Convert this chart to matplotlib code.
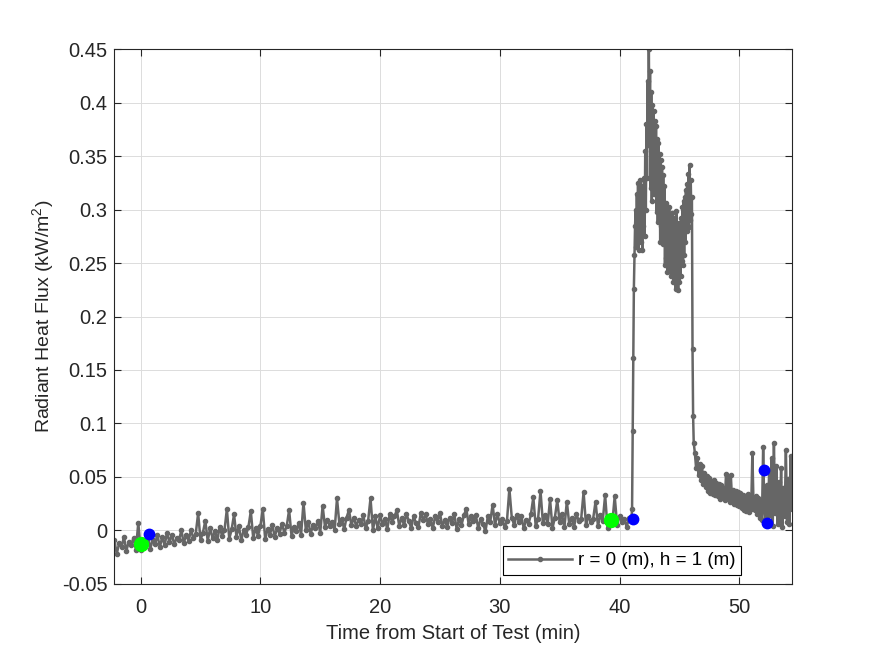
import numpy as np
import matplotlib.pyplot as plt
from matplotlib.ticker import FuncFormatter

plt.rcParams['font.family'] = ['Liberation Sans', 'DejaVu Sans']
plt.rcParams['mathtext.default'] = 'regular'

# heat flux readings in W/m2 (converted to kW/m2 below)
# pre-ignition, sampled every 0.2 min from -2.2 min
pre_start, pre_step = -2.2, 0.2
flux_pre = [
    -9, -22, -12, -16, -6, -19, -11, -14, -7, -18,
    7, -18, -10, -15, -5, -17, -9, -13, -4, -16,
    -6, -14, -2, -11, -4, -13, -7, -9, 0, -12,
    -4, -10, 0, -7, -3, 16, -9, -2, 9, -10,
    2, -7, -1, -9, 3, -5, 0, 20, -8, 1,
    15, -6, 4, -9, 0, -4, 3, 18, -7, 2,
    -5, 4, 20, -8, 1, -4, 5, -6, 2, -3,
    6, -2, 4, 19, -5, 3, -1, 7, -4, 26,
    0, 8, -3, 5, 2, 9, -2, 23, 3, 10,
    4, 8, 0, 30, 6, 11, 1, 12, 19, 5,
    12, 4, 10, 6, 14, 2, 9, 30, 0, 13,
    2, 14, 6, 11, 1, 15, 8, 13, 19, 4,
    12, 5, 15, 9, 2, 13, 7, 3, 16, 10,
    15, 6, 11, 2, 13, 8, 16, 4, 10, 3,
    12, 7, 15, 1, 11, 5, 14, 20, 6, 13,
    9, 14, 2, 11, 6, -1, 13, 8, 24, 5,
    15, 7, 11, 3, 9, 39, 12, 5, 14, 8,
    13, 2, 10, 6, 15, 31, 4, 11, 37, 7,
    14, 6, 29, 2, 12, 28, 8, 15, 3, 27,
    6, 12, 3, 15, 9, 11, 36, 5, 13, 8,
    11, 27, 4, 14, 9, 33, 2, 12, 7, 32,
    5, 13, 8, 11, 3, 12,
]

# fire period, sampled every 0.05 min from 41.0 min
fire_start, fire_step = 41.0, 0.05
flux_fire = [
    11, 20, 93, 161, 226, 258, 285, 300, 265, 315,
    275, 325, 262, 310, 280, 328, 270, 305, 262, 322,
    285, 330, 275, 355, 300, 380, 330, 420, 360, 450,
    380, 430, 320, 410, 308, 398, 335, 392, 315, 383,
    325, 378, 298, 366, 288, 362, 305, 352, 270, 346,
    285, 340, 268, 332, 275, 322, 248, 306, 255, 302,
    242, 292, 250, 302, 244, 288, 238, 297, 250, 283,
    232, 292, 242, 278, 226, 299, 236, 272, 225, 287,
    232, 268, 238, 292, 252, 302, 248, 308, 258, 312,
    270, 318, 280, 324, 285, 333, 284, 342, 290, 328,
    296, 312, 170, 107, 82,
]

# decay, sampled every 0.1 min from 46.3 min
post_start, post_step = 46.3, 0.1
flux_post = [
    72, 58, 68, 52, 62, 47, 60, 43, 54, 41,
    51, 37, 49, 35, 46, 34, 47, 33, 44, 32,
    43, 29, 42, 31, 40, 28, 53, 30, 50, 27,
    52, 29, 38, 25, 37, 24, 36, 23, 35, 21,
    33, 19, 32, 18, 34, 17, 30, 20, 72, 22,
    19, 32, 15, 30, 12, 28, 10, 78, 18, 5,
    42, 8, 55, 14, 68, 4, 82, 16, 60, 6,
    45, 10, 58, 3, 40, 13, 75, 8, 48, 6,
    70, 20,
]

# marked points
green_t = [0.0, 39.3]
green_q = [-0.0125, 0.010]
blue_t = [0.7, 41.1, 52.05, 52.3]
blue_q = [-0.003, 0.011, 0.056, 0.007]

xticks = [0, 10, 20, 30, 40, 50]
yticks = [-0.05, 0, 0.05, 0.1, 0.15, 0.2, 0.25, 0.3, 0.35, 0.4, 0.45]

t = np.concatenate([
    pre_start + pre_step * np.arange(len(flux_pre)),
    fire_start + fire_step * np.arange(len(flux_fire)),
    post_start + post_step * np.arange(len(flux_post)),
])
q = np.array(flux_pre + flux_fire + flux_post) / 1000.0

fig = plt.figure(figsize=(8.75, 6.56), dpi=100)
ax = fig.add_axes([0.13, 0.11, 0.775, 0.815])

ax.plot(t, q, color='#666666', lw=1.8, marker='.', ms=6,
        label='r = 0 (m), h = 1 (m)')
ax.plot(green_t, green_q, 'o', color='#00ff00', ms=10, mec='#00ff00')
ax.plot(blue_t, blue_q, 'o', color='#0000ff', ms=7.5, mec='#0000ff')

ax.set_xlim(-2.25, 54.4)
ax.set_ylim(-0.05, 0.45)
ax.set_xticks(xticks)
ax.set_yticks(yticks)
ax.yaxis.set_major_formatter(FuncFormatter(lambda v, p: '%g' % round(v, 3)))
ax.grid(True, color='#dcdcdc', lw=0.7)
ax.set_axisbelow(True)
ax.tick_params(direction='in', top=True, right=True, length=5,
               labelsize=14.5, color='#262626', labelcolor='#262626')
ax.tick_params(axis='x', pad=10)
ax.tick_params(axis='y', pad=4.5)
for s in ax.spines.values():
    s.set_color('#262626')
    s.set_linewidth(0.8)

ax.set_xlabel('Time from Start of Test (min)', fontsize=14.5,
              color='#262626', labelpad=5)
ax.set_ylabel('Radiant Heat Flux (kW/m$^2$)', fontsize=14, color='#262626')

leg = ax.legend(loc='lower right', bbox_to_anchor=(0.9247, 0.017),
                borderaxespad=0, fontsize=13.5, handlelength=3.4,
                handletextpad=0.3, borderpad=0.3,
                fancybox=False, framealpha=1, edgecolor='black', numpoints=1)
leg.get_frame().set_linewidth(0.8)

fig.savefig('out.png', dpi=100)
